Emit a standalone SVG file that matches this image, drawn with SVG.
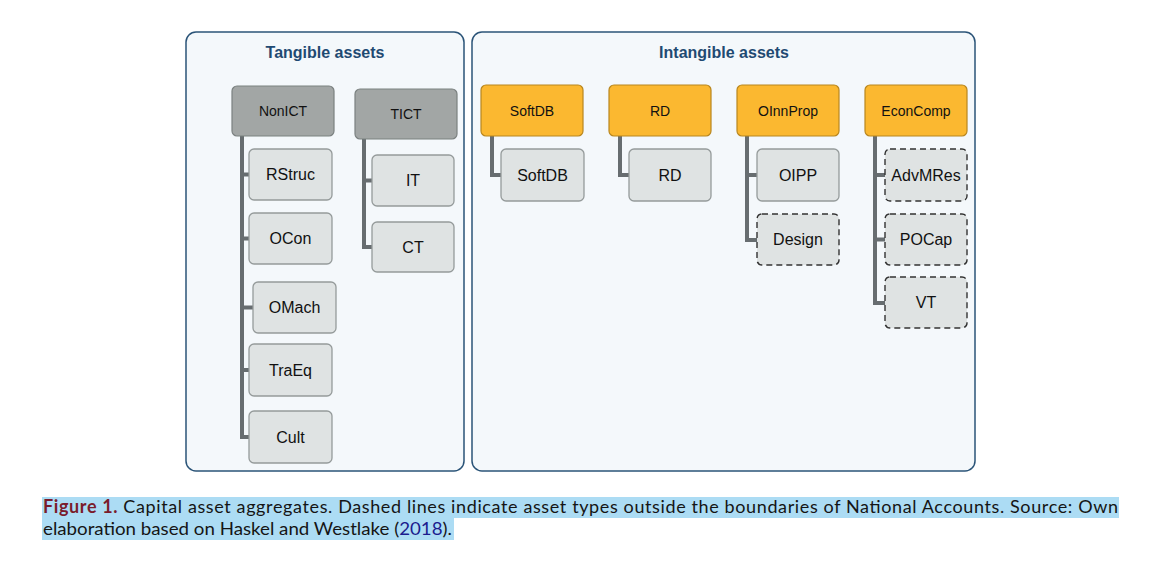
<svg xmlns="http://www.w3.org/2000/svg" width="1160" height="574" viewBox="0 0 1160 574">
<style>
.panel{fill:#f4f8fb;stroke:#2b5478;stroke-width:1.5}
.title{font-family:"Liberation Sans",Arial,sans-serif;font-size:16px;font-weight:bold;fill:#1f4a72;text-anchor:middle}
.hg{fill:#a2a6a5;stroke:#7b8180;stroke-width:1.2}
.ho{fill:#fbb830;stroke:#b8861e;stroke-width:1.2}
.ch{fill:#dfe3e3;stroke:#959b9b;stroke-width:1.3}
.cd{fill:#dfe3e3;stroke:#333;stroke-width:1.4;stroke-dasharray:6,4}
.hl{font-family:"Liberation Sans",Arial,sans-serif;font-size:14px;fill:#111;text-anchor:middle}
.cl{font-family:"Liberation Sans",Arial,sans-serif;font-size:16px;fill:#111;text-anchor:middle}
.con{fill:none;stroke:#676d70;stroke-width:4}
.cap{font-family:Lato,"Open Sans",sans-serif;font-size:18px;fill:#151515}
.hi{fill:#acdcf4}
</style>
<rect class="panel" x="186" y="32" width="278" height="439" rx="10"/>
<rect class="panel" x="472" y="32" width="503" height="439" rx="10"/>
<text class="title" x="325" y="58">Tangible assets</text>
<text class="title" x="724" y="58">Intangible assets</text>
<g id="connectors">
<path class="con" d="M242 136V437H249M242 174.5H249M242 238.5H249M242 307.5H253M242 370H249"/>
<path class="con" d="M364 139V247H372M364 180.5H372"/>
<path class="con" d="M492 136V175H501"/>
<path class="con" d="M620 136V175H629"/>
<path class="con" d="M747 136V240H757M747 175H757"/>
<path class="con" d="M875 136V303H885M875 175H885M875 239.5H885"/>
</g>
<g id="NonICT"><rect class="hg" x="232" y="86" width="102" height="50" rx="5"/><text class="hl" x="283" y="116">NonICT</text></g>
<g id="TICT"><rect class="hg" x="355" y="89" width="102" height="50" rx="5"/><text class="hl" x="406" y="119">TICT</text></g>
<g id="RStruc"><rect class="ch" x="249" y="149" width="83" height="51" rx="5"/><text class="cl" x="290.5" y="180">RStruc</text></g>
<g id="OCon"><rect class="ch" x="249" y="213" width="83" height="51" rx="5"/><text class="cl" x="290.5" y="244">OCon</text></g>
<g id="OMach"><rect class="ch" x="253" y="282" width="83" height="51" rx="5"/><text class="cl" x="294.5" y="313">OMach</text></g>
<g id="TraEq"><rect class="ch" x="249" y="344" width="83" height="52" rx="5"/><text class="cl" x="290.5" y="375.5">TraEq</text></g>
<g id="Cult"><rect class="ch" x="249" y="411" width="83" height="52" rx="5"/><text class="cl" x="290.5" y="442.5">Cult</text></g>
<g id="IT"><rect class="ch" x="372" y="155" width="82" height="51" rx="5"/><text class="cl" x="413" y="186">IT</text></g>
<g id="CT"><rect class="ch" x="372" y="222" width="82" height="50" rx="5"/><text class="cl" x="413" y="252.5">CT</text></g>
<g id="SoftDB-h"><rect class="ho" x="481" y="85" width="102" height="51" rx="5"/><text class="hl" x="532" y="116">SoftDB</text></g>
<g id="RD-h"><rect class="ho" x="609" y="85" width="102" height="51" rx="5"/><text class="hl" x="660" y="116">RD</text></g>
<g id="OInnProp"><rect class="ho" x="737" y="85" width="102" height="51" rx="5"/><text class="hl" x="788" y="116">OInnProp</text></g>
<g id="EconComp"><rect class="ho" x="865" y="85" width="102" height="51" rx="5"/><text class="hl" x="916" y="116">EconComp</text></g>
<g id="SoftDB"><rect class="ch" x="501" y="149" width="83" height="52" rx="5"/><text class="cl" x="542.5" y="180.5">SoftDB</text></g>
<g id="RD"><rect class="ch" x="629" y="149" width="82" height="52" rx="5"/><text class="cl" x="670" y="180.5">RD</text></g>
<g id="OIPP"><rect class="ch" x="757" y="149" width="82" height="52" rx="5"/><text class="cl" x="798" y="180.5">OIPP</text></g>
<g id="Design"><rect class="cd" x="757" y="214" width="82" height="51" rx="5"/><text class="cl" x="798" y="245">Design</text></g>
<g id="AdvMRes"><rect class="cd" x="885" y="149" width="82" height="52" rx="5"/><text class="cl" x="926" y="180.5">AdvMRes</text></g>
<g id="POCap"><rect class="cd" x="885" y="214" width="82" height="51" rx="5"/><text class="cl" x="926" y="245">POCap</text></g>
<g id="VT"><rect class="cd" x="885" y="277" width="82" height="51" rx="5"/><text class="cl" x="926" y="308">VT</text></g>
<g id="caption">
<rect class="hi" x="42" y="497" width="1077" height="21"/>
<rect class="hi" x="42" y="518" width="412" height="22"/>
<text class="cap" x="43" y="513" textLength="1075" lengthAdjust="spacing"><tspan font-weight="bold" fill="#7a1c2c">Figure 1.</tspan> Capital asset aggregates. Dashed lines indicate asset types outside the boundaries of National Accounts. Source: Own</text>
<text class="cap" x="43" y="535" textLength="409" lengthAdjust="spacingAndGlyphs">elaboration based on Haskel and Westlake (<tspan fill="#1c1c8e">2018</tspan>).</text>
</g>
</svg>
